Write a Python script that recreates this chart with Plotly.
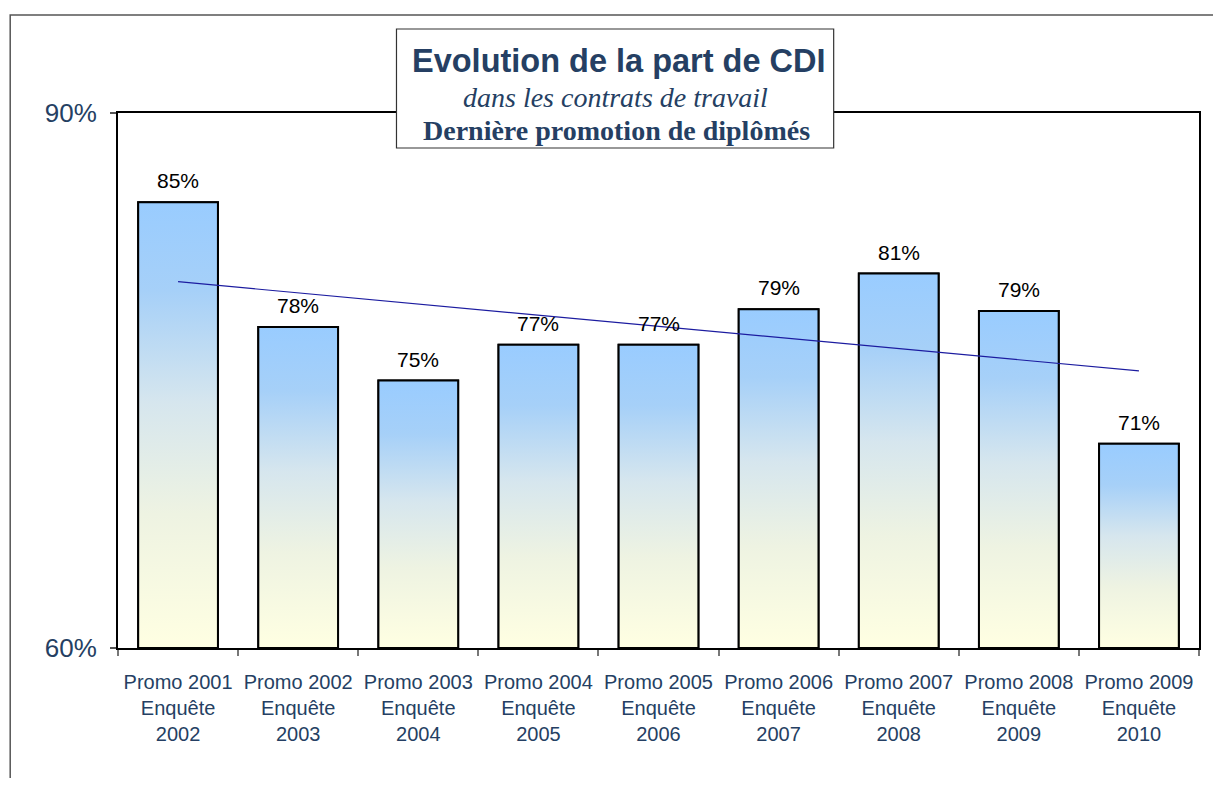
import numpy as np
import plotly.graph_objects as go

# ---- data ----
categories = ["Promo 2001<br>Enquête<br>2002", "Promo 2002<br>Enquête<br>2003",
              "Promo 2003<br>Enquête<br>2004", "Promo 2004<br>Enquête<br>2005",
              "Promo 2005<br>Enquête<br>2006", "Promo 2006<br>Enquête<br>2007",
              "Promo 2007<br>Enquête<br>2008", "Promo 2008<br>Enquête<br>2009",
              "Promo 2009<br>Enquête<br>2010"]
values = [85.0, 78.0, 75.0, 77.0, 77.0, 79.0, 81.0, 78.9, 71.45]
labels = ["85%", "78%", "75%", "77%", "77%", "79%", "81%", "79%", "71%"]
y_tickvals = [60, 90]
y_ticktext = ["60%", "90%"]

# ---- style / geometry (page pixels; body has an 8px margin) ----
OFF = 8
W, H = 1221 - 2 * OFF, 786 - 2 * OFF
PLOT_L, PLOT_R, PLOT_T, PLOT_B = 118, 1201, 113, 648  # page px
ML, MT = PLOT_L - OFF, PLOT_T - OFF
MR, MB = W - (PLOT_R - OFF), H - (PLOT_B - OFF)
PW, PH = PLOT_R - PLOT_L, PLOT_B - PLOT_T
TEXT_BLUE = "#253f63"
BAR_HALF = 0.332
GRAD = [[0.0, "#FFFFE2"], [0.3, "#EEF3E2"], [0.55, "#D6E6EE"],
        [0.8, "#A6D0F8"], [1.0, "#99CCFF"]]


def px_x(p):
    return (p - PLOT_L) / PW


def px_y(p):
    return (PLOT_B - p) / PH


x = np.arange(len(values))
fig = go.Figure()

# bar trace (transparent body, outline)
fig.add_trace(go.Bar(
    x=x, y=values, width=2 * BAR_HALF,
    marker=dict(color="rgba(0,0,0,0)", line=dict(color="black", width=2)),
    showlegend=False, hoverinfo="skip"))

# gradient fill + outline for each bar (computed from data)
for i, v in enumerate(values):
    fig.add_trace(go.Scatter(
        x=[i - BAR_HALF, i + BAR_HALF, i + BAR_HALF, i - BAR_HALF, i - BAR_HALF],
        y=[60, 60, v, v, 60],
        mode="lines", fill="toself", line=dict(color="black", width=2),
        fillgradient=dict(type="vertical", colorscale=GRAD, start=60, stop=v),
        hoverinfo="skip", showlegend=False))

# linear trend line (least squares on the values)
slope, intercept = np.polyfit(x, values, 1)
fig.add_trace(go.Scatter(
    x=x, y=slope * x + intercept, mode="lines",
    line=dict(color="#1c1ca0", width=1.2),
    hoverinfo="skip", showlegend=False))

# value labels
for i, (v, t) in enumerate(zip(values, labels)):
    fig.add_annotation(x=i, y=v, text=t, showarrow=False, yanchor="bottom",
                       yshift=8, font=dict(family="Arial", size=21, color="black"))

# title box
fig.add_shape(type="rect", xref="paper", yref="paper",
              x0=px_x(397), x1=px_x(835), y0=px_y(148), y1=px_y(29),
              fillcolor="white", line=dict(color="#333333", width=1.2), layer="above")
title_lines = [
    ("<b>Evolution de la part de CDI</b>", "Arial", 32.5, 620, 61),
    ("<i>dans les contrats de travail</i>", "Liberation Serif", 28, 616, 97),
    ("<b>Dernière promotion de diplômés</b>", "Liberation Serif", 28, 617, 130),
]
for txt, fam, size, cx, cy in title_lines:
    fig.add_annotation(xref="paper", yref="paper", x=px_x(cx), y=px_y(cy),
                       xanchor="center", yanchor="middle",
                       text=txt, showarrow=False,
                       font=dict(family=fam, size=size, color=TEXT_BLUE))

# outer chart border
fig.add_shape(type="rect", xref="paper", yref="paper",
              x0=px_x(10), x1=px_x(1240), y0=px_y(800), y1=px_y(15),
              line=dict(color="#555555", width=1.5), fillcolor="rgba(0,0,0,0)")

fig.update_layout(
    width=W, height=H, autosize=False,
    margin=dict(l=ML, r=MR, t=MT, b=MB, pad=0),
    paper_bgcolor="white", plot_bgcolor="white",
    barmode="overlay",
    xaxis=dict(range=[-0.5, len(values) - 0.5], tickvals=list(x), ticktext=categories,
               ticks="", showgrid=False, zeroline=False,
               showline=True, linecolor="black", linewidth=2, mirror=True,
               tickfont=dict(family="Arial", size=20, color=TEXT_BLUE),
               ticklabelstandoff=15,
               minor=dict(tick0=0.5, dtick=1, ticks="outside", ticklen=6,
                          tickcolor="#777777", tickwidth=1.5)),
    yaxis=dict(range=[60, 90], tickvals=y_tickvals, ticktext=y_ticktext,
               ticks="outside", ticklen=6, tickcolor="#555555", tickwidth=1.5,
               showgrid=False, zeroline=False,
               showline=True, linecolor="black", linewidth=2, mirror=True,
               tickfont=dict(family="Arial", size=26, color=TEXT_BLUE),
               ticklabelstandoff=8),
)

fig.write_html("out.html")
